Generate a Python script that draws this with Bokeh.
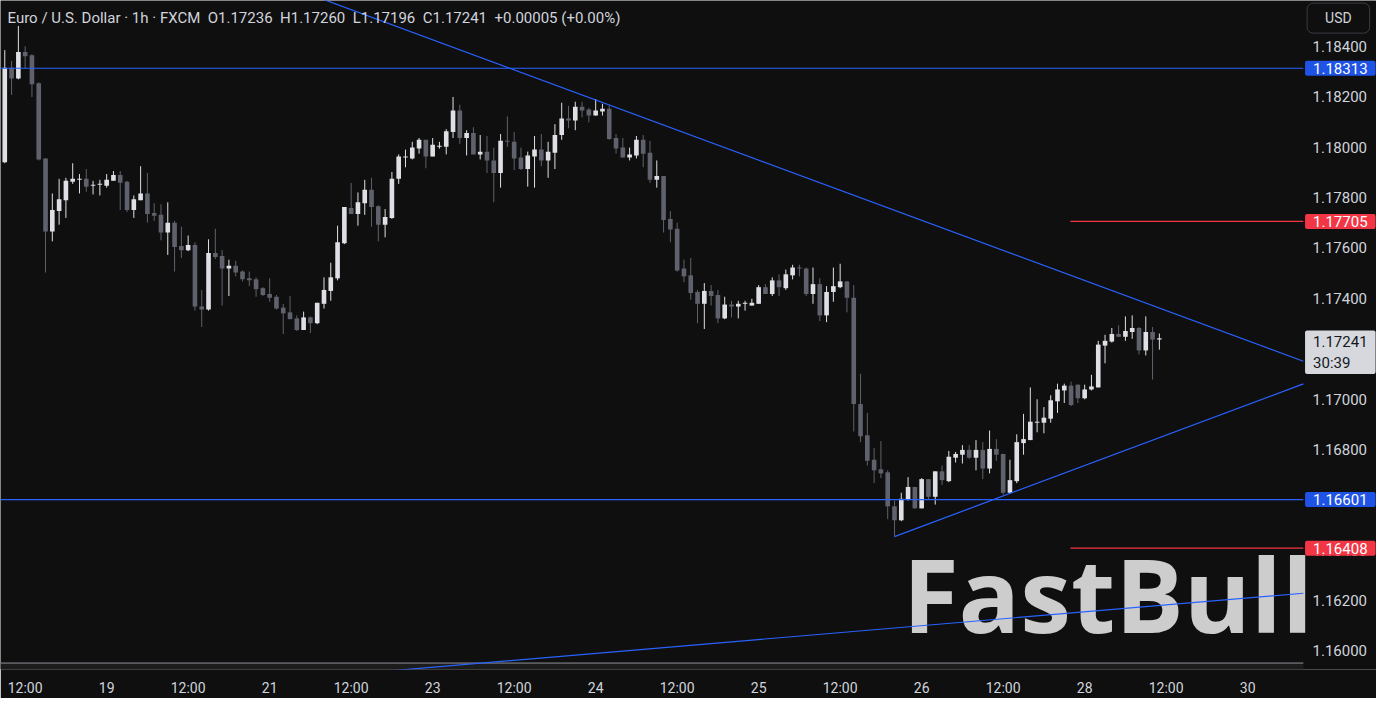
from bokeh.plotting import figure
from bokeh.models import (Range1d, FixedTicker, PrintfTickFormatter,
                          BoxAnnotation, Label, ColumnDataSource)
from bokeh.embed import file_html
from bokeh.resources import INLINE
from bokeh.core.properties import value

# ---------------- data (EUR/USD, 1h, FXCM) ----------------
opens = [1.17940, 1.18315, 1.18272, 1.18377, 1.18365, 1.18253, 1.17955, 1.17665, 1.17746, 1.17789,
         1.17862, 1.17870, 1.17874, 1.17847, 1.17851, 1.17847, 1.17866, 1.17889, 1.17862, 1.17750,
         1.17789, 1.17816, 1.17738, 1.17731, 1.17661, 1.17700, 1.17607, 1.17591, 1.17611, 1.17367,
         1.17355, 1.17580, 1.17568, 1.17518, 1.17529, 1.17506, 1.17479, 1.17475, 1.17440, 1.17417,
         1.17406, 1.17363, 1.17344, 1.17320, 1.17274, 1.17324, 1.17301, 1.17378, 1.17429, 1.17479,
         1.17618, 1.17758, 1.17734, 1.17777, 1.17831, 1.17765, 1.17692, 1.17719, 1.17874, 1.17959,
         1.17955, 1.17994, 1.18029, 1.17963, 1.18001, 1.18001, 1.18060, 1.18145, 1.18036, 1.18056,
         1.17971, 1.17982, 1.17947, 1.17897, 1.18025, 1.18021, 1.17959, 1.17913, 1.17963, 1.17990,
         1.17947, 1.17978, 1.18048, 1.18114, 1.18106, 1.18160, 1.18149, 1.18125, 1.18141, 1.18152,
         1.18036, 1.17998, 1.17959, 1.17967, 1.18029, 1.17978, 1.17870, 1.17885, 1.17715, 1.17676,
         1.17518, 1.17491, 1.17425, 1.17378, 1.17429, 1.17413, 1.17320, 1.17375, 1.17367, 1.17378,
         1.17371, 1.17378, 1.17444, 1.17417, 1.17471, 1.17440, 1.17491, 1.17522, 1.17518, 1.17417,
         1.17456, 1.17332, 1.17425, 1.17444, 1.17467, 1.17402, 1.16980, 1.16856, 1.16759, 1.16721,
         1.16709, 1.16574, 1.16519, 1.16601, 1.16651, 1.16566, 1.16682, 1.16612, 1.16713, 1.16674,
         1.16767, 1.16779, 1.16798, 1.16767, 1.16798, 1.16724, 1.16802, 1.16782, 1.16628, 1.16674,
         1.16825, 1.16837, 1.16906, 1.16906, 1.16922, 1.16991, 1.17034, 1.17053, 1.17057, 1.17003,
         1.17038, 1.17046, 1.17212, 1.17228, 1.17258, 1.17247, 1.17266, 1.17282, 1.17193, 1.17266,
         1.17236]

highs = [1.18385, 1.18342, 1.18481, 1.18400, 1.18369, 1.18257, 1.17955, 1.17816, 1.17874, 1.17878,
         1.17936, 1.17893, 1.17913, 1.17866, 1.17870, 1.17893, 1.17905, 1.17905, 1.17866, 1.17808,
         1.17924, 1.17897, 1.17777, 1.17773, 1.17781, 1.17707, 1.17684, 1.17649, 1.17622, 1.17433,
         1.17634, 1.17676, 1.17591, 1.17553, 1.17549, 1.17510, 1.17506, 1.17483, 1.17444, 1.17479,
         1.17413, 1.17378, 1.17409, 1.17332, 1.17347, 1.17328, 1.17382, 1.17483, 1.17541, 1.17688,
         1.17762, 1.17858, 1.17820, 1.17870, 1.17878, 1.17769, 1.17754, 1.17901, 1.17971, 1.17990,
         1.18021, 1.18036, 1.18029, 1.18036, 1.18021, 1.18071, 1.18199, 1.18168, 1.18067, 1.18079,
         1.18048, 1.18044, 1.17998, 1.18052, 1.18122, 1.18060, 1.17998, 1.17982, 1.18044, 1.18052,
         1.18021, 1.18091, 1.18176, 1.18164, 1.18180, 1.18180, 1.18156, 1.18191, 1.18172, 1.18164,
         1.18052, 1.18036, 1.17998, 1.18044, 1.18048, 1.18025, 1.17947, 1.17885, 1.17746, 1.17700,
         1.17553, 1.17560, 1.17433, 1.17460, 1.17452, 1.17433, 1.17406, 1.17390, 1.17390, 1.17390,
         1.17398, 1.17452, 1.17456, 1.17483, 1.17495, 1.17514, 1.17533, 1.17533, 1.17522, 1.17522,
         1.17479, 1.17448, 1.17522, 1.17537, 1.17467, 1.17452, 1.17100, 1.16945, 1.16806, 1.16833,
         1.16717, 1.16597, 1.16628, 1.16690, 1.16651, 1.16686, 1.16682, 1.16713, 1.16736, 1.16794,
         1.16790, 1.16817, 1.16817, 1.16837, 1.16829, 1.16875, 1.16841, 1.16782, 1.16759, 1.16860,
         1.16941, 1.17046, 1.16999, 1.16968, 1.17015, 1.17061, 1.17061, 1.17069, 1.17057, 1.17057,
         1.17096, 1.17231, 1.17255, 1.17282, 1.17293, 1.17328, 1.17332, 1.17286, 1.17328, 1.17286,
         1.17260]

lows = [1.17936, 1.18207, 1.18269, 1.18311, 1.18199, 1.17947, 1.17502, 1.17626, 1.17692, 1.17719,
        1.17854, 1.17816, 1.17823, 1.17812, 1.17808, 1.17839, 1.17866, 1.17750, 1.17742, 1.17719,
        1.17789, 1.17700, 1.17707, 1.17630, 1.17572, 1.17506, 1.17560, 1.17587, 1.17351, 1.17286,
        1.17351, 1.17556, 1.17371, 1.17409, 1.17487, 1.17467, 1.17448, 1.17406, 1.17409, 1.17386,
        1.17355, 1.17258, 1.17317, 1.17270, 1.17274, 1.17262, 1.17297, 1.17359, 1.17390, 1.17471,
        1.17615, 1.17734, 1.17688, 1.17731, 1.17684, 1.17626, 1.17642, 1.17715, 1.17854, 1.17920,
        1.17951, 1.17974, 1.17916, 1.17963, 1.17994, 1.17971, 1.18036, 1.18013, 1.17967, 1.17971,
        1.17951, 1.17897, 1.17781, 1.17839, 1.18001, 1.17909, 1.17909, 1.17843, 1.17839, 1.17924,
        1.17878, 1.17913, 1.18029, 1.18075, 1.18067, 1.18118, 1.18098, 1.18125, 1.18125, 1.18029,
        1.17974, 1.17959, 1.17947, 1.17955, 1.17920, 1.17858, 1.17839, 1.17661, 1.17622, 1.17506,
        1.17464, 1.17394, 1.17301, 1.17278, 1.17371, 1.17301, 1.17317, 1.17324, 1.17320, 1.17351,
        1.17371, 1.17378, 1.17417, 1.17409, 1.17409, 1.17433, 1.17475, 1.17487, 1.17409, 1.17378,
        1.17309, 1.17305, 1.17386, 1.17440, 1.17344, 1.16871, 1.16829, 1.16736, 1.16666, 1.16686,
        1.16523, 1.16454, 1.16515, 1.16597, 1.16566, 1.16566, 1.16601, 1.16581, 1.16659, 1.16670,
        1.16748, 1.16744, 1.16763, 1.16717, 1.16682, 1.16705, 1.16755, 1.16620, 1.16624, 1.16666,
        1.16779, 1.16837, 1.16868, 1.16864, 1.16906, 1.16945, 1.16984, 1.16972, 1.16984, 1.16999,
        1.17034, 1.17046, 1.17142, 1.17224, 1.17247, 1.17231, 1.17239, 1.17177, 1.17173, 1.17077,
        1.17196]

closes = [1.18315, 1.18272, 1.18377, 1.18361, 1.18249, 1.17951, 1.17665, 1.17750, 1.17793, 1.17866,
          1.17874, 1.17874, 1.17843, 1.17851, 1.17854, 1.17870, 1.17889, 1.17858, 1.17750, 1.17793,
          1.17816, 1.17734, 1.17727, 1.17661, 1.17700, 1.17603, 1.17591, 1.17611, 1.17367, 1.17355,
          1.17580, 1.17564, 1.17518, 1.17529, 1.17502, 1.17475, 1.17471, 1.17436, 1.17413, 1.17402,
          1.17359, 1.17340, 1.17317, 1.17274, 1.17324, 1.17301, 1.17382, 1.17433, 1.17483, 1.17622,
          1.17762, 1.17734, 1.17781, 1.17831, 1.17762, 1.17692, 1.17723, 1.17874, 1.17963, 1.17963,
          1.17998, 1.18029, 1.17963, 1.18009, 1.18005, 1.18063, 1.18145, 1.18036, 1.18056, 1.17971,
          1.17982, 1.17947, 1.17897, 1.18025, 1.18021, 1.17955, 1.17913, 1.17967, 1.17990, 1.17947,
          1.17982, 1.18048, 1.18114, 1.18106, 1.18160, 1.18145, 1.18125, 1.18145, 1.18152, 1.18032,
          1.17994, 1.17959, 1.17971, 1.18029, 1.17974, 1.17870, 1.17885, 1.17711, 1.17673, 1.17510,
          1.17487, 1.17421, 1.17378, 1.17429, 1.17409, 1.17320, 1.17375, 1.17367, 1.17378, 1.17382,
          1.17382, 1.17444, 1.17417, 1.17471, 1.17444, 1.17495, 1.17522, 1.17518, 1.17417, 1.17456,
          1.17332, 1.17425, 1.17448, 1.17467, 1.17402, 1.16980, 1.16852, 1.16755, 1.16717, 1.16705,
          1.16574, 1.16519, 1.16604, 1.16651, 1.16566, 1.16682, 1.16612, 1.16713, 1.16678, 1.16771,
          1.16782, 1.16798, 1.16767, 1.16798, 1.16724, 1.16802, 1.16779, 1.16628, 1.16678, 1.16829,
          1.16841, 1.16910, 1.16910, 1.16926, 1.16995, 1.17038, 1.17053, 1.16976, 1.17003, 1.17038,
          1.17050, 1.17216, 1.17231, 1.17258, 1.17247, 1.17270, 1.17282, 1.17193, 1.17266, 1.17236,
          1.17241]

# time axis: bar index of each label and its text
time_ticks = [3, 15, 27, 39, 51, 63, 75, 87, 99, 111, 123, 135, 147, 159, 171, 183]
time_labels = ["12:00", "19", "12:00", "21", "12:00", "23", "12:00", "24",
               "12:00", "25", "12:00", "26", "12:00", "28", "12:00", "30"]

# price axis ticks
price_ticks = [1.160, 1.162, 1.164, 1.166, 1.168, 1.170, 1.172, 1.174,
               1.176, 1.178, 1.180, 1.182, 1.184]

# drawn levels
blue_levels = [1.18313, 1.16601]
red_levels = [1.17705, 1.16408]
red_level_start = 156.9

# trend lines: two anchor points each (bar index, price)
trend_down = ([82.3, 191.2], [1.18234, 1.17150])
trend_up = ([131.0, 191.2], [1.16454, 1.17060])
trend_low = ([57.6, 191.2], [1.15923, 1.16229])

bottom_level = 1.15952
countdown = "30:39"

# ---------------- layout / style ----------------
BG = "#0f0f0f"
UP = "#dfe0e5"
DOWN = "#5f626d"
BLUE = "#2962ff"
TAG_BLUE = "#1e53e5"
RED = "#f23645"
TXT = "#d1d4dc"
FONT = "Roboto"

X0, X_END = -0.63, 201.97       # whole width (candle pane + price column)
PANE_EDGE = 191.2               # right edge of the candle pane
TAG_X = 191.45                  # left edge of the price tags
USD_X = 191.75
Y0, Y1 = 1.159264, 1.185819

n = len(opens)
idx = list(range(n))
colors = [UP if c >= o else DOWN for o, c in zip(opens, closes)]
min_body = 0.00004
tops, bots = [], []
for o, c in zip(opens, closes):
    t, b = max(o, c), min(o, c)
    if t - b < min_body:
        m = (t + b) / 2
        t, b = m + min_body / 2, m - min_body / 2
    tops.append(t)
    bots.append(b)

src = ColumnDataSource(dict(x=idx, h=highs, l=lows, top=tops, bot=bots, color=colors))

p = figure(width=1376, height=698, x_range=Range1d(X0, X_END), y_range=Range1d(Y0, Y1),
           output_backend="svg", toolbar_location=None, y_axis_location="right",
           background_fill_color=BG, border_fill_color=BG, outline_line_color=None,
           min_border_left=0, min_border_top=0, min_border_right=0, min_border_bottom=28)
p.grid.visible = False

ya = p.yaxis[0]
ya.ticker = FixedTicker(ticks=price_ticks)
ya.formatter = PrintfTickFormatter(format="%.5f")
ya.axis_line_color = None
ya.major_tick_line_color = None
ya.minor_tick_line_color = None
ya.major_tick_out = 0
ya.major_tick_in = 0
ya.major_label_text_color = TXT
ya.major_label_text_font = FONT
ya.major_label_text_font_size = "15px"
ya.major_label_standoff = -64

xa = p.xaxis[0]
xa.ticker = FixedTicker(ticks=time_ticks)
xa.major_label_overrides = {t: lab for t, lab in zip(time_ticks, time_labels)}
xa.axis_line_color = None
xa.major_tick_line_color = None
xa.minor_tick_line_color = None
xa.major_tick_out = 0
xa.major_tick_in = 0
xa.major_label_text_color = TXT
xa.major_label_text_font = FONT
xa.major_label_text_font_size = "14px"
xa.major_label_standoff = 10

# bottom band + grey line of the candle pane
p.add_layout(BoxAnnotation(top=bottom_level, right=PANE_EDGE, fill_color="#1c1c1c",
                           fill_alpha=1, line_color=None, level="underlay"))
p.segment(x0=[X0], y0=[bottom_level], x1=[PANE_EDGE], y1=[bottom_level],
          line_color="#8f9299", line_width=1)

# watermark
p.text(x=[132.2], y=[1.16227], text=["FastBull"], text_font=value("Open Sans"),
       text_font_style="bold", text_font_size="102px", text_color="#cdcdcd",
       text_align="left", text_baseline="alphabetic")

# candles
p.segment(x0="x", y0="h", x1="x", y1="l", color="color", line_width=1, source=src)
p.vbar(x="x", width=0.68, top="top", bottom="bot", fill_color="color",
       line_color=None, source=src)


def extend(pts, x_from, x_to):
    (xa_, xb_), (ya_, yb_) = pts
    s = (yb_ - ya_) / (xb_ - xa_)
    return [x_from, x_to], [ya_ + s * (x_from - xa_), ya_ + s * (x_to - xa_)]


for pts, xf in ((trend_down, 30), (trend_up, trend_up[0][0]), (trend_low, 40)):
    xs, ys = extend(pts, xf, PANE_EDGE)
    p.line(xs, ys, line_color=BLUE, line_width=1.2)

p.segment(x0=[X0] * len(blue_levels), y0=blue_levels,
          x1=[PANE_EDGE] * len(blue_levels), y1=blue_levels, line_color=BLUE, line_width=1.2)
p.segment(x0=[red_level_start] * len(red_levels), y0=red_levels,
          x1=[PANE_EDGE] * len(red_levels), y1=red_levels, line_color=RED, line_width=1.2)


# ---- price tags in the price column ----
def tag(y, text, bg, fg, y_offset=0):
    p.add_layout(Label(x=TAG_X, y=y, text=text, text_align="left", text_baseline="middle",
                       y_offset=y_offset, text_color=fg, text_font=FONT,
                       text_font_size="15px", background_fill_color=bg,
                       padding=(8, 2), border_radius=2))


for lv in blue_levels:
    tag(lv, f"{lv:.5f}", TAG_BLUE, "#ffffff")
for lv in red_levels:
    tag(lv, f"{lv:.5f}", RED, "#ffffff")
tag(closes[-1], f"{closes[-1]:.5f}\n{countdown}", "#d6d8de", "#131722", y_offset=-14)

p.add_layout(Label(x=USD_X, y=1.18512, text="USD", text_align="left", text_baseline="middle",
                   text_color=TXT, text_font=FONT, text_font_size="14px",
                   background_fill_color=BG, border_line_color="#3a3d45",
                   border_line_width=1, border_radius=6, padding=(18, 7)))

chg = closes[-1] - closes[-2]
sp = "\u00a0\u00a0"
header = (f"Euro / U.S. Dollar · 1h · FXCM{sp}O{opens[-1]:.5f}{sp}H{highs[-1]:.5f}{sp}"
          f"L{lows[-1]:.5f}{sp}C{closes[-1]:.5f}{sp}{chg:+.5f} ({chg / closes[-2] * 100:+.2f}%)")
p.add_layout(Label(x=0.4, y=1.18512, text=header, text_align="left", text_baseline="middle",
                   text_color=TXT, text_font=FONT, text_font_size="15px"))

open("out.html", "w").write(file_html(p, INLINE))
